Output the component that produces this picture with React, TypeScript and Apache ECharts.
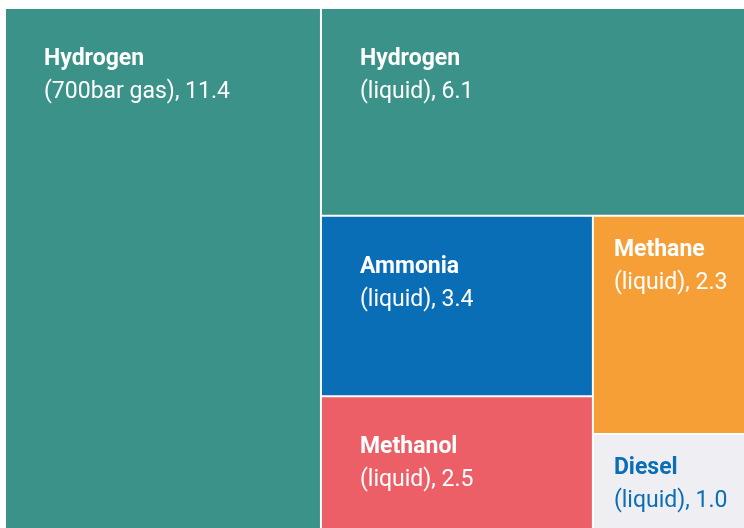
import React, { useEffect, useRef } from "react";
import * as echarts from "echarts";

const names = ["Hydrogen", "Hydrogen", "Ammonia", "Methanol", "Methane", "Diesel"];
const forms = ["(700bar gas)", "(liquid)", "(liquid)", "(liquid)", "(liquid)", "(liquid)"];
const values = [11.4, 6.1, 3.4, 2.5, 2.3, 1.0];
const colors = ["#3a9288", "#3a9288", "#0a6eb6", "#ec5f67", "#f59f36", "#efeef2"];
const textColors = ["#ffffff", "#ffffff", "#ffffff", "#ffffff", "#ffffff", "#0a6eb6"];
const big = [true, true, true, true, false, false];

function leaf(i: number) {
  const pos = big[i] ? [33, 27] : [15, 10];
  return {
    name: names[i],
    form: forms[i],
    value: values[i],
    itemStyle: { color: colors[i] },
    label: {
      position: pos,
      rich: {
        b: { fontFamily: "Roboto", fontSize: 23, fontWeight: "bold", lineHeight: 33, color: textColors[i] },
        r: { fontFamily: "Roboto", fontSize: 23, fontWeight: "normal", lineHeight: 33, color: textColors[i] },
      },
    },
  };
}

function group(children: any[]) {
  return {
    name: "",
    value: children.reduce((s, c) => s + c.value, 0),
    children,
  };
}

export default function App() {
  const ref = useRef<HTMLDivElement>(null);
  useEffect(() => {
    if (!ref.current) return;
    const chart = echarts.init(ref.current, undefined, { renderer: "svg" });
    const colD = group([leaf(2), leaf(3)]);
    const colE = group([leaf(4), leaf(5)]);
    const groupC = group([colD, colE]);
    const groupB = group([leaf(1), groupC]);
    const data = [leaf(0), groupB];
    chart.setOption({
      animation: false,
      series: [
        {
          type: "treemap",
          left: 6,
          top: 9,
          right: 0,
          bottom: 0,
          roam: false,
          nodeClick: false,
          sort: false,
          breadcrumb: { show: false },
          squareRatio: 1,
          itemStyle: { gapWidth: 2, borderWidth: 0, borderColor: "#ffffff" },
          upperLabel: { show: false },
          label: {
            show: true,
            overflow: "none",
            formatter: (p: any) => `{b|${p.data.name}}\n{r|${p.data.form}, ${p.value.toFixed(1)}}`,
          },
          emphasis: { disabled: true },
          data,
        },
      ],
    });
    return () => chart.dispose();
  }, []);
  return (
    <div
      ref={ref}
      style={{ position: "fixed", left: 0, top: 0, width: 744, height: 528 }}
    />
  );
}
